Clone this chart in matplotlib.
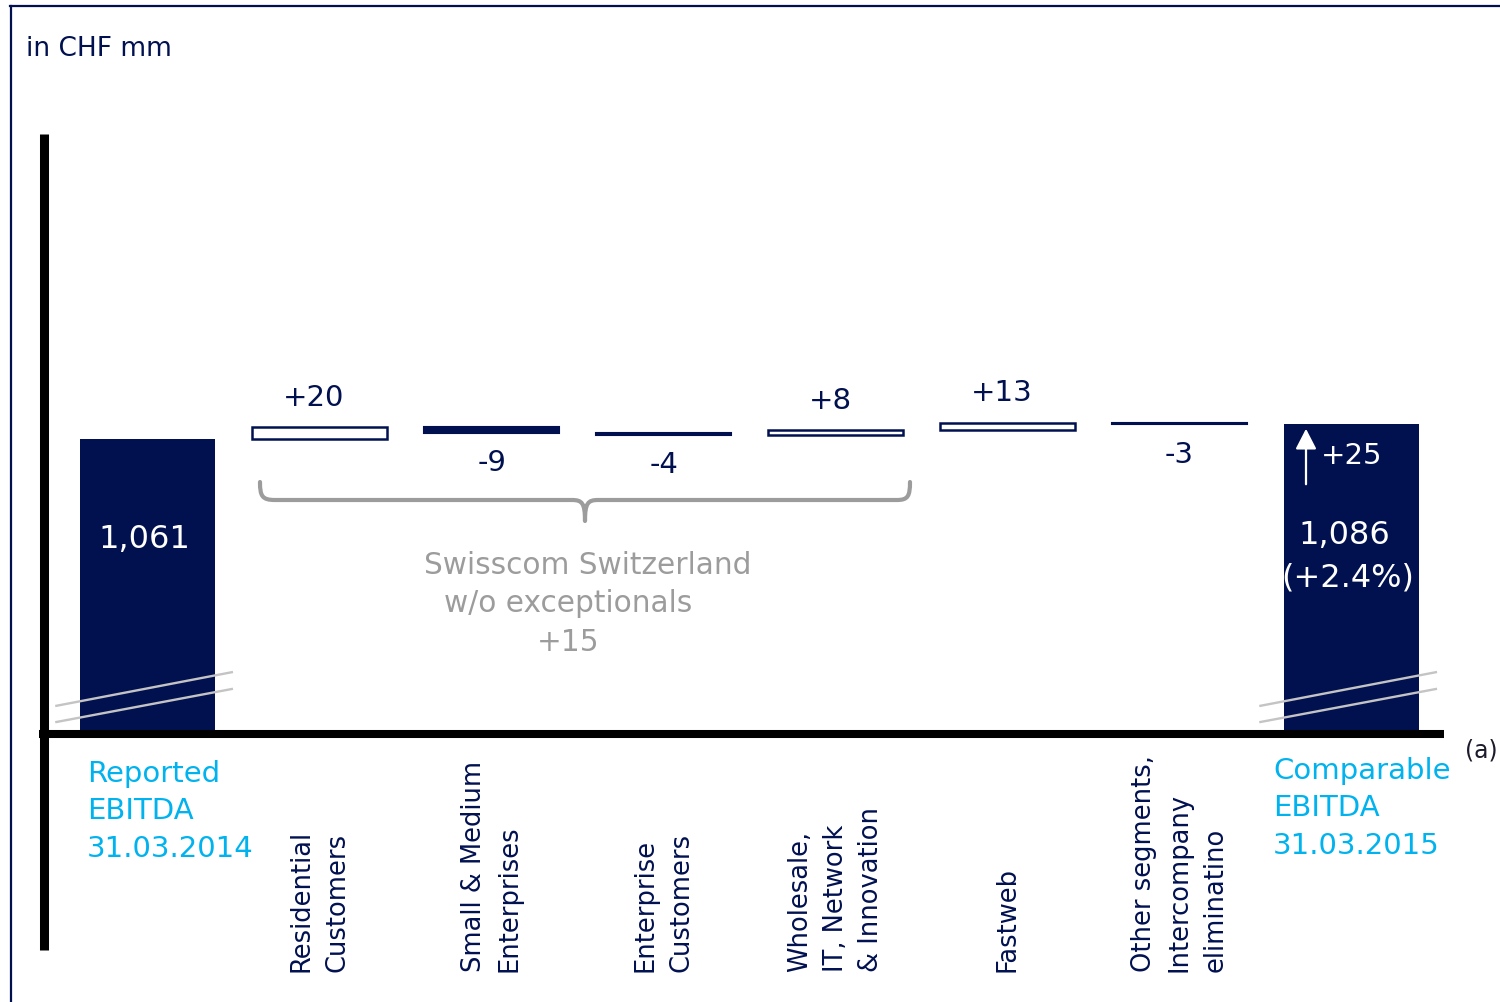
import matplotlib
matplotlib.use("Agg")
import matplotlib.pyplot as plt
from matplotlib.lines import Line2D
from matplotlib.path import Path
from matplotlib.patches import PathPatch, FancyArrowPatch
from matplotlib.transforms import Affine2D, blended_transform_factory

plt.rcParams['font.family'] = ['DejaVu Sans']

# ---- data (CHF mm) ----
start_label = "Reported\nEBITDA\n31.03.2014"
end_label = "Comparable\nEBITDA\n31.03.2015"
categories = [
    "Residential\nCustomers",
    "Small & Medium\nEnterprises",
    "Enterprise\nCustomers",
    "Wholesale,\nIT, Network\n& Innovation",
    "Fastweb",
    "Other segments,\nIntercompany\neliminatino",
]
changes = [20, -9, -4, 8, 13, -3]
start_value = 1061
end_value = 1086
growth_pct = 2.4
group_title = ["Swisscom Switzerland", "w/o exceptionals"]

# ---- styling ----
NAVY = "#011150"
CYAN = "#00B2EE"
GREY = "#9c9c9c"
W, H = 1500, 1003

fig = plt.figure(figsize=(W / 100, H / 100), dpi=100)
# helper transform: pixel coordinates measured from the top-left corner
PX = Affine2D().scale(1 / W, -1 / H).translate(0, 1) + fig.transFigure

ax = fig.add_axes([44 / W, 1 - 735 / H, (1445 - 44) / W, 600 / H])
ax.axis("off")
y_floor = 570          # broken axis: bars start here
ax.set_ylim(y_floor, y_floor + 1000)
ax.set_xlim(-0.602, 7.543)
bw = 0.785

# start / end totals
ax.bar(0, start_value - y_floor, bottom=y_floor, width=bw, color=NAVY, zorder=2)
ax.bar(7, end_value - y_floor, bottom=y_floor, width=bw, color=NAVY, zorder=2)

# bridge steps
cum = start_value
for i, d in enumerate(changes, start=1):
    lo = cum if d > 0 else cum + d
    if d > 0:
        ax.bar(i, d, bottom=lo, width=bw, facecolor="white", edgecolor=NAVY,
               linewidth=1.8, zorder=2)
        ax.annotate(f"+{d}", (i, lo + d), xytext=(-4, 22), textcoords="offset points",
                    ha="center", va="center", fontsize=21, color=NAVY)
    else:
        ax.bar(i, -d, bottom=lo, width=bw, facecolor=NAVY, edgecolor=NAVY,
               linewidth=1.5, zorder=2)
        ax.annotate(f"{d}", (i, lo), xytext=(0, -21), textcoords="offset points",
                    ha="center", va="center", fontsize=21, color=NAVY)
    cum += d

# value labels inside the total bars
ax.annotate(f"{start_value:,}", (0, start_value), xytext=(-2, -71), textcoords="offset points",
            ha="center", va="center", fontsize=23, color="white", zorder=3)
ax.annotate(f"{end_value:,}", (7, end_value), xytext=(-5, -79), textcoords="offset points",
            ha="center", va="center", fontsize=23, color="white", zorder=3)
ax.annotate(f"(+{growth_pct}%)", (7, end_value), xytext=(-3, -110), textcoords="offset points",
            ha="center", va="center", fontsize=23, color="white", zorder=3)
ax.annotate(f"+{end_value - start_value}", (7, end_value), xytext=(-22, -22),
            textcoords="offset points", ha="left", va="center", fontsize=21,
            color="white", zorder=3)
fig.add_artist(FancyArrowPatch((1306, 488), (1306, 427), transform=PX,
                               arrowstyle="-|>,head_length=0.62,head_width=0.32",
                               mutation_scale=20, color="white", lw=1.6, zorder=5))

# axis-break marks on the total bars
bt = blended_transform_factory(ax.transData, ax.transAxes)
for i in (0, 7):
    for y0, y1 in ((0.047, 0.103), (0.020, 0.075)):
        ax.add_line(Line2D([i - 0.53, i + 0.49], [y0, y1], transform=bt, color="#c4c4c4",
                           lw=1.7, zorder=4, clip_on=False))

# axes lines
fig.add_artist(Line2D([43.5, 43.5], [135, 951], transform=PX, color="black", lw=6.5,
                      solid_capstyle="butt"))
fig.add_artist(Line2D([39, 1444], [735, 735], transform=PX, color="black", lw=5.8,
                      solid_capstyle="butt"))

# outer frame (top and left edges)
fig.add_artist(Line2D([10, W], [7, 7], transform=PX, color=NAVY, lw=1.6))
fig.add_artist(Line2D([10.5, 10.5], [7, H], transform=PX, color=NAVY, lw=1.6))

fig.text(26 / W, 1 - 49 / H, "in CHF mm", fontsize=19, color=NAVY, ha="left", va="center")

# category labels (rotated)
xt = blended_transform_factory(ax.transData, fig.transFigure)
for i, lab in enumerate(categories, start=1):
    ax.text(i, 1 - 972 / H, lab, transform=xt, rotation=90, ha="center", va="bottom",
            multialignment="left", fontsize=18.5, color=NAVY, linespacing=1.48,
            clip_on=False)

fig.text(87 / W, 1 - 760 / H, start_label, fontsize=21, color=CYAN, ha="left", va="top",
         linespacing=1.43)
fig.text(1273 / W, 1 - 757 / H, end_label, fontsize=21, color=CYAN, ha="left", va="top",
         linespacing=1.43)
fig.text(1481 / W, 1 - 751 / H, "(a)", fontsize=17, color="#1b1b2b", ha="center", va="center")

# brace grouping the Swisscom Switzerland segments
verts = [(260, 483), (260, 497), (262, 501), (275, 501), (572, 501),
         (582, 501), (585, 504), (585, 522),
         (585, 504), (588, 501), (598, 501), (897, 501),
         (908, 501), (910, 497), (910, 483)]
codes = [Path.MOVETO, Path.CURVE4, Path.CURVE4, Path.CURVE4, Path.LINETO,
         Path.CURVE4, Path.CURVE4, Path.CURVE4,
         Path.CURVE4, Path.CURVE4, Path.CURVE4, Path.LINETO,
         Path.CURVE4, Path.CURVE4, Path.CURVE4]
fig.add_artist(PathPatch(Path(verts, codes), transform=PX, facecolor="none",
                         edgecolor=GREY, lw=3, joinstyle="round", capstyle="round"))

group_total = sum(changes[:4])
for (x, y), txt in zip([(588, 566), (568, 604), (568, 643)],
                       group_title + [f"+{group_total}"]):
    fig.text(x / W, 1 - y / H, txt, fontsize=21.3, color=GREY, ha="center", va="center")

fig.savefig("out.png", dpi=100, facecolor="white")
